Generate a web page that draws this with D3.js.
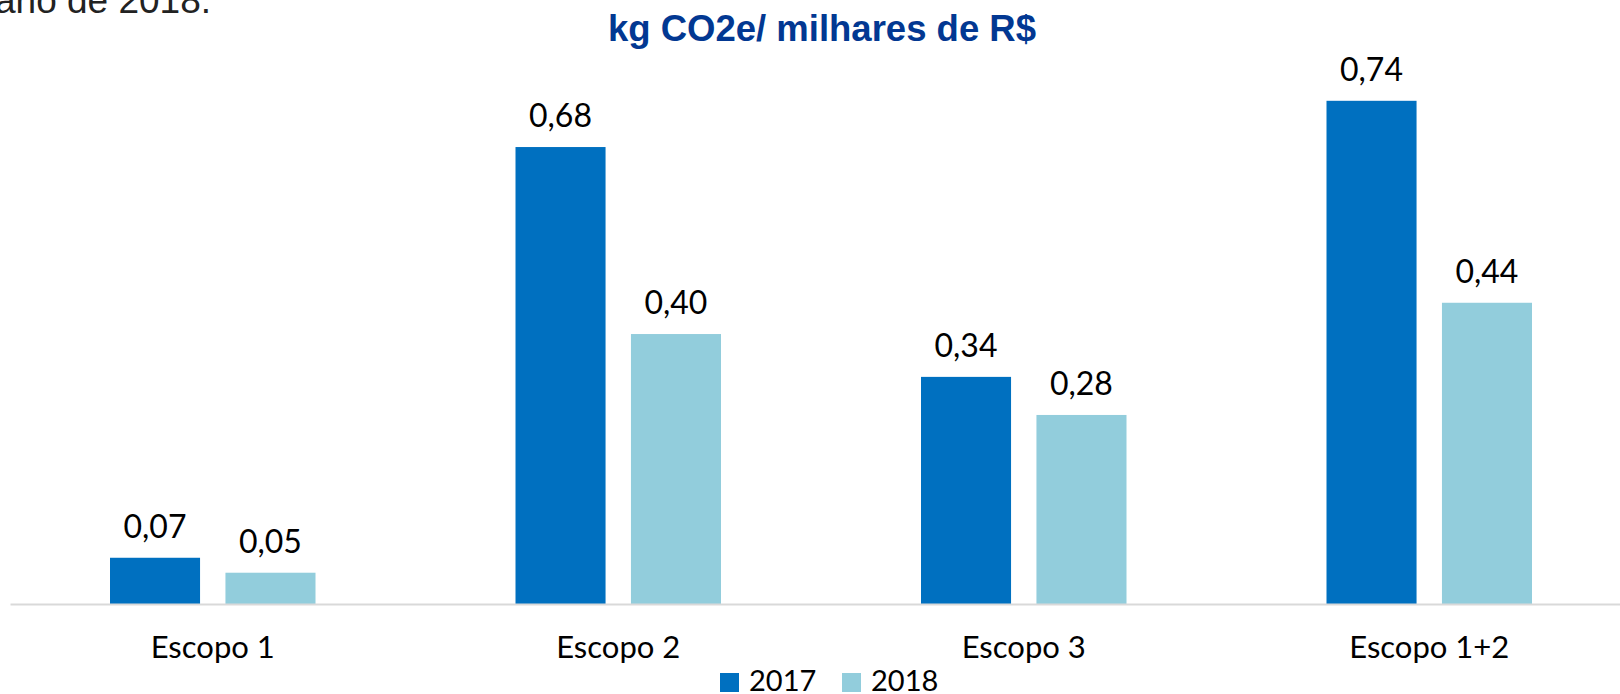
<!DOCTYPE html>
<html>
<head>
<meta charset="utf-8">
<script src="https://cdn.jsdelivr.net/npm/d3@7.9.0/dist/d3.min.js"></script>
<style>
  html, body { margin: 0; padding: 0; background: #fff; overflow: hidden; }
  #chart { width: 1620px; height: 694px; }
</style>
</head>
<body>
<div id="chart"></div>
<script>
// Chart data
const categories = ['Escopo 1', 'Escopo 2', 'Escopo 3', 'Escopo 1+2'];
const seriesNames = ['2017', '2018'];
const values2017 = [0.068, 0.672, 0.334, 0.74];
const values2018 = [0.046, 0.397, 0.278, 0.443];
const labels2017 = ['0,07', '0,68', '0,34', '0,74'];
const labels2018 = ['0,05', '0,40', '0,28', '0,44'];
const title = 'kg CO2e/ milhares de R$';
const clippedText = 'ano de 2018.';

const colors = { '2017': '#0070c0', '2018': '#92cddc' };
const fontFamily = 'Lato, "Open Sans", sans-serif';

const rows = categories.flatMap((c, i) => [
  { cat: c, series: '2017', value: values2017[i], label: labels2017[i] },
  { cat: c, series: '2018', value: values2018[i], label: labels2018[i] },
]);

const width = 1620;
const height = 694;
const baseY = 604;

const svg = d3
  .select('#chart')
  .append('svg')
  .attr('width', width)
  .attr('height', height);

// Text from the page above, cut off at the top edge
svg
  .append('text')
  .attr('x', -5)
  .attr('y', 13)
  .attr('font-family', '"Liberation Sans", Arial, sans-serif')
  .attr('font-size', 37)
  .attr('fill', '#222')
  .text(clippedText);

// Title
svg
  .append('text')
  .attr('x', 822)
  .attr('y', 41)
  .attr('text-anchor', 'middle')
  .attr('font-family', '"Liberation Sans", Arial, sans-serif')
  .attr('font-weight', 'bold')
  .attr('font-size', 36.5)
  .attr('fill', '#023892')
  .text(title);

// Scales
const x0 = d3.scaleBand().domain(categories).range([10, 1632]);

const x1 = d3
  .scaleBand()
  .domain(seriesNames)
  .range([100, x0.bandwidth() - 100])
  .paddingInner(0.22);

const y = d3.scaleLinear().domain([0, 0.8]).range([baseY, baseY - 0.8 * 680]);

// Bars
const groups = svg
  .selectAll('g.group')
  .data(categories)
  .enter()
  .append('g')
  .attr('class', 'group')
  .attr('transform', (d) => `translate(${x0(d)},0)`);

groups
  .selectAll('rect')
  .data((c) => rows.filter((r) => r.cat === c))
  .enter()
  .append('rect')
  .attr('x', (d) => x1(d.series))
  .attr('y', (d) => y(d.value))
  .attr('width', x1.bandwidth())
  .attr('height', (d) => baseY - y(d.value))
  .attr('fill', (d) => colors[d.series]);

// Data labels
groups
  .selectAll('text.lbl')
  .data((c) => rows.filter((r) => r.cat === c))
  .enter()
  .append('text')
  .attr('class', 'lbl')
  .attr('x', (d) => x1(d.series) + x1.bandwidth() / 2)
  .attr('y', (d) => y(d.value) - 20)
  .attr('text-anchor', 'middle')
  .attr('font-family', fontFamily)
  .attr('font-size', 32)
  .attr('fill', '#000')
  .text((d) => d.label);

// Category axis
const xAxis = svg
  .append('g')
  .attr('transform', `translate(0,${baseY})`)
  .call(d3.axisBottom(x0).tickSize(0).tickSizeOuter(0).tickPadding(32));

xAxis.select('.domain').attr('stroke', '#d9d9d9').attr('stroke-width', 2);
xAxis
  .selectAll('text')
  .attr('font-family', fontFamily)
  .attr('font-size', 31)
  .attr('fill', '#000');

// Legend
const legendX = [720, 842];
const legend = svg
  .selectAll('g.legend')
  .data(seriesNames)
  .enter()
  .append('g')
  .attr('class', 'legend')
  .attr('transform', (d, i) => `translate(${legendX[i]},673)`);

legend
  .append('rect')
  .attr('width', 19)
  .attr('height', 19)
  .attr('fill', (d) => colors[d]);

legend
  .append('text')
  .attr('x', 29)
  .attr('y', 18)
  .attr('font-family', fontFamily)
  .attr('font-size', 29)
  .attr('fill', '#000')
  .text((d) => d);
</script>
</body>
</html>
